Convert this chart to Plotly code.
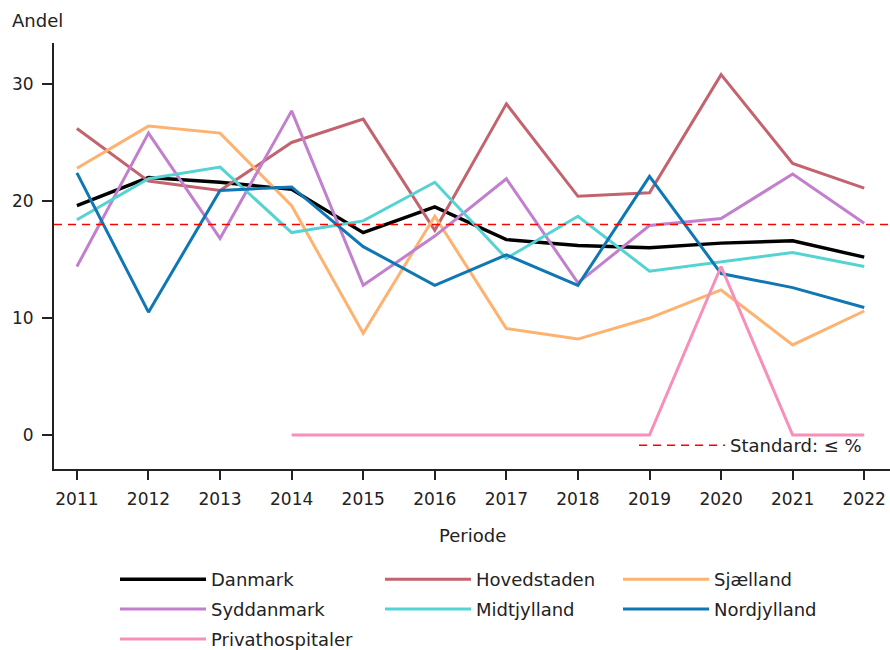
import plotly.graph_objects as go

years = [2011, 2012, 2013, 2014, 2015, 2016, 2017, 2018, 2019, 2020, 2021, 2022]

danmark = [19.6, 22.0, 21.6, 21.0, 17.3, 19.5, 16.7, 16.2, 16.0, 16.4, 16.6, 15.2]
hovedstaden = [26.2, 21.7, 20.9, 25.0, 27.0, 17.5, 28.3, 20.4, 20.7, 30.8, 23.2, 21.1]
sjaelland = [22.8, 26.4, 25.8, 19.6, 8.7, 18.7, 9.1, 8.2, 10.0, 12.4, 7.7, 10.6]
syddanmark = [14.4, 25.8, 16.8, 27.7, 12.8, 17.0, 21.9, 13.0, 17.9, 18.5, 22.3, 18.1]
midtjylland = [18.4, 21.9, 22.9, 17.3, 18.3, 21.6, 15.1, 18.7, 14.0, 14.8, 15.6, 14.4]
nordjylland = [22.4, 10.5, 20.9, 21.2, 16.1, 12.8, 15.4, 12.8, 22.1, 13.8, 12.6, 10.9]
privat = [None, None, None, 0, 0, 0, 0, 0, 0, 14.4, 0, 0]

standard_value = 18
standard_label = "Standard: ≤ %"

series = [
    ("Danmark", danmark, "#000000", "legend"),
    ("Hovedstaden", hovedstaden, "#c3636e", "legend2"),
    ("Sjælland", sjaelland, "#fdb36f", "legend3"),
    ("Syddanmark", syddanmark, "#c27fce", "legend"),
    ("Midtjylland", midtjylland, "#55d3d3", "legend2"),
    ("Nordjylland", nordjylland, "#0f77b3", "legend3"),
    ("Privathospitaler", privat, "#f78fba", "legend"),
]

FONT = "DejaVu Sans"
TXT = "#222222"

# plot area in pixels (for placing text outside the axes)
L, R, T, B = 54, 890, 43, 469


def px_x(px):
    return (px - L) / (R - L)


def px_y(py):
    return (B - py) / (B - T)


fig = go.Figure()
for name, vals, col, leg in series:
    fig.add_trace(go.Scatter(
        x=years, y=vals, mode="lines", name=name,
        line=dict(color=col, width=3.4 if name == "Danmark" else 3),
        legend=leg, legendgroup=name, connectgaps=False,
    ))

fig.add_hline(y=standard_value, line=dict(color="#ff0000", width=1.5, dash="8px,6px"))
fig.add_trace(go.Scatter(
    x=[None], y=[None], mode="lines", name=standard_label,
    line=dict(color="#ff0000", width=1.5, dash="8px,6px"), legend="legend4",
))

leg_common = dict(
    xref="container", yref="container", xanchor="left", yanchor="top",
    orientation="v", font=dict(family=FONT, size=18, color=TXT),
    bgcolor="rgba(0,0,0,0)", tracegroupgap=3.5,
)

fig.update_layout(
    width=890, height=650,
    margin=dict(l=L, r=890 - R, t=T, b=650 - B, autoexpand=False),
    plot_bgcolor="white", paper_bgcolor="white",
    font=dict(family=FONT, size=17, color=TXT),
    showlegend=True,
    legend=dict(x=115 / 890, y=1 - 561 / 650, itemwidth=86, **leg_common),
    legend2=dict(x=380 / 890, y=1 - 561 / 650, itemwidth=86, **leg_common),
    legend3=dict(x=618 / 890, y=1 - 561 / 650, itemwidth=86, **leg_common),
    legend4=dict(x=634 / 890, y=1 - 427 / 650, itemwidth=86, **leg_common),
    xaxis=dict(
        range=[2010.68, 2022.36], tickvals=years, ticktext=[str(y) for y in years],
        showline=True, linecolor="#222222", linewidth=2, showgrid=False, zeroline=False,
        ticks="outside", ticklen=9, tickwidth=1.5, tickcolor="#222222",
        tickfont=dict(family=FONT, size=17, color=TXT), ticklabelstandoff=5,
    ),
    yaxis=dict(
        range=[-2.9, 33.5], tickvals=[0, 10, 20, 30],
        showline=True, linecolor="#222222", linewidth=2, showgrid=False, zeroline=False,
        ticks="outside", ticklen=10, tickwidth=1.5, tickcolor="#222222",
        tickfont=dict(family=FONT, size=17, color=TXT), ticklabelstandoff=5,
    ),
    annotations=[
        dict(text="Andel", xref="paper", yref="paper", x=px_x(10), y=px_y(20),
             xanchor="left", yanchor="middle", showarrow=False,
             font=dict(family=FONT, size=18, color=TXT)),
        dict(text="Periode", xref="paper", yref="paper", x=0.5, y=px_y(535),
             xanchor="center", yanchor="middle", showarrow=False,
             font=dict(family=FONT, size=18, color=TXT)),
    ],
)

fig.write_html("out.html", config={"displayModeBar": False},
               post_script="document.body.style.margin='0';")
